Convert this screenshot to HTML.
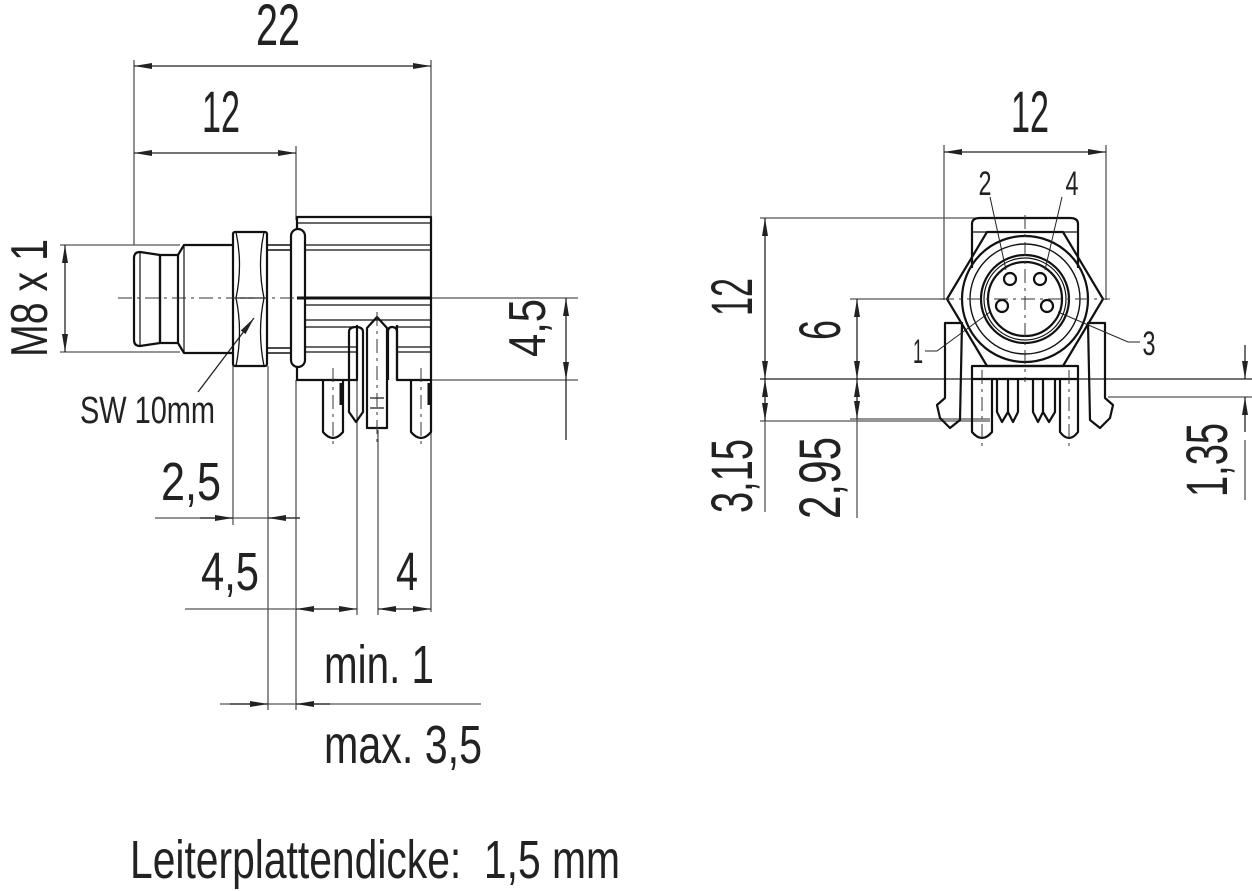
<!DOCTYPE html>
<html><head><meta charset="utf-8"><style>
html,body{margin:0;padding:0;background:#fff;}
svg{display:block;}
text{font-family:"Liberation Sans",sans-serif;fill:#222;}
</style></head><body>
<svg width="1252" height="891" viewBox="0 0 1252 891" xmlns="http://www.w3.org/2000/svg">
<defs>
<marker id="a" viewBox="0 0 18 6" refX="18" refY="3" markerWidth="18" markerHeight="6" markerUnits="userSpaceOnUse" orient="auto-start-reverse"><path d="M0,0 L18,3 L0,6 Z" fill="#222"/></marker>
</defs>
<g stroke="#555" stroke-width="1.3" fill="none">
<line x1="134" y1="60" x2="134" y2="245"/>
<line x1="296" y1="146" x2="296" y2="220"/>
<line x1="431" y1="60" x2="431" y2="612"/>
<line x1="60" y1="245" x2="180" y2="245"/>
<line x1="60" y1="352" x2="180" y2="352"/>
<line x1="430" y1="298" x2="578" y2="298"/>
<line x1="410" y1="380" x2="578" y2="380"/>
<line x1="233" y1="366" x2="233" y2="525"/>
<line x1="268" y1="366" x2="268" y2="710"/>
<line x1="296" y1="380" x2="296" y2="710"/>
<line x1="357" y1="325" x2="357" y2="615"/>
<line x1="378" y1="430" x2="378" y2="615"/>
<line x1="155" y1="518" x2="300" y2="518"/>
<line x1="185" y1="609" x2="296" y2="609"/>
<line x1="220" y1="704" x2="481" y2="704"/>
<line x1="944" y1="145" x2="944" y2="300"/>
<line x1="1106" y1="145" x2="1106" y2="300"/>
<line x1="760" y1="218" x2="1000" y2="218"/>
<line x1="850" y1="299" x2="945" y2="299"/>
<line x1="760" y1="379" x2="1252" y2="379" stroke="#222"/>
<line x1="760" y1="421" x2="990" y2="421"/>
<line x1="850" y1="419" x2="990" y2="419"/>
<line x1="1108" y1="397" x2="1252" y2="397"/>
<line x1="765" y1="421" x2="765" y2="512"/>
<line x1="857" y1="419" x2="857" y2="518"/>
<line x1="1245" y1="440" x2="1245" y2="500"/>
</g>
<g stroke="#222" stroke-width="1.3" fill="none">
<line x1="134" y1="66" x2="431" y2="66" marker-start="url(#a)" marker-end="url(#a)"/>
<line x1="134" y1="153" x2="296" y2="153" marker-start="url(#a)" marker-end="url(#a)"/>
<line x1="65" y1="245" x2="65" y2="352" marker-start="url(#a)" marker-end="url(#a)"/>
<line x1="566" y1="298" x2="566" y2="380" marker-start="url(#a)" marker-end="url(#a)"/>
<line x1="566" y1="380" x2="566" y2="440"/>
<line x1="200" y1="518" x2="233" y2="518" marker-end="url(#a)"/>
<line x1="300" y1="518" x2="268" y2="518" marker-end="url(#a)"/>
<line x1="296" y1="609" x2="357" y2="609" marker-start="url(#a)" marker-end="url(#a)"/>
<line x1="378" y1="609" x2="431" y2="609" marker-start="url(#a)" marker-end="url(#a)"/>
<line x1="230" y1="704" x2="268" y2="704" marker-end="url(#a)"/>
<line x1="330" y1="704" x2="296" y2="704" marker-end="url(#a)"/>
<line x1="944" y1="152" x2="1106" y2="152" marker-start="url(#a)" marker-end="url(#a)"/>
<line x1="765" y1="218" x2="765" y2="379" marker-start="url(#a)" marker-end="url(#a)"/>
<line x1="765" y1="379" x2="765" y2="421" marker-start="url(#a)" marker-end="url(#a)"/>
<line x1="857" y1="299" x2="857" y2="379" marker-start="url(#a)" marker-end="url(#a)"/>
<line x1="857" y1="379" x2="857" y2="419" marker-start="url(#a)" marker-end="url(#a)"/>
<line x1="1245" y1="345" x2="1245" y2="379" marker-end="url(#a)"/>
<line x1="1245" y1="432" x2="1245" y2="397" marker-end="url(#a)"/>
<line x1="198" y1="392" x2="254" y2="318" marker-end="url(#a)"/>
</g>
<g stroke="#111" stroke-width="2.2" fill="none" stroke-linejoin="round">
<path d="M160,255 L140,252 Q134,252 134,258 L134,340 Q134,346 140,346 L160,343 Z"/>
<line x1="140" y1="252" x2="140" y2="346" stroke-width="1.2"/>
<rect x="160" y="255" width="18" height="88"/>
<path d="M178,255 L184,245 L233,245 M178,343 L184,353 L233,353"/>
<line x1="184" y1="245" x2="184" y2="353" stroke-width="1.2"/>
<rect x="233" y="232" width="34" height="134" rx="2"/>
<path d="M233,298 L267,298 M236,232 Q243,265 236,298 Q243,331 236,366 M264,232 Q257,265 264,298 Q257,331 264,366" stroke-width="1.3"/>
<path d="M267,245 L291,245 M267,353 L291,353 M267,250 L291,250 M267,348 L291,348" stroke-width="1.4"/>
<rect x="291" y="229" width="14" height="138" rx="7"/>
<path d="M297,229 L297,217 L431,217 L431,380 L397,380 L397,325 M357,325 L357,380 L297,380 L297,367"/>
<g stroke-width="1.3">
<line x1="297" y1="223" x2="431" y2="223"/>
<line x1="305" y1="245" x2="431" y2="245"/>
<line x1="305" y1="250" x2="431" y2="250"/>
<line x1="305" y1="305" x2="431" y2="305"/>
<line x1="305" y1="320" x2="431" y2="320"/>
<line x1="305" y1="327" x2="357" y2="327"/>
<line x1="397" y1="327" x2="431" y2="327"/>
<line x1="305" y1="347" x2="357" y2="347"/>
<line x1="397" y1="347" x2="431" y2="347"/>
<line x1="305" y1="352" x2="357" y2="352"/>
<line x1="397" y1="352" x2="431" y2="352"/>
</g>
<line x1="297" y1="298" x2="431" y2="298" stroke-width="3"/>
<path d="M323,380 L323,432 Q333,444 343,432 L343,380"/>
<path d="M349,332 Q349,327 356,327 Q363,327 363,332 L363,412 L356,422 L349,412 Z"/>
<path d="M367,328 L377,317 L387,328 L387,428 L367,428 Z"/>
<line x1="370" y1="398" x2="384" y2="398" stroke-width="1.2"/><line x1="370" y1="408" x2="384" y2="408" stroke-width="1.2"/>
<path d="M388,380 L388,332 Q388,327 392,327 Q397,327 397,332 L397,380"/>
<path d="M411,380 L411,432 Q421,444 431,432 L431,380"/>
<line x1="341" y1="383" x2="341" y2="405" stroke-width="3"/>
<line x1="429" y1="383" x2="429" y2="405" stroke-width="3"/>
</g>
<g stroke="#333" stroke-width="1" stroke-dasharray="14,5,3,5" fill="none">
<line x1="118" y1="298" x2="300" y2="298"/>
<line x1="333" y1="368" x2="333" y2="445"/>
<line x1="377" y1="312" x2="377" y2="445"/>
<line x1="421" y1="368" x2="421" y2="445"/>
</g>
<g stroke="#111" stroke-width="2.2" fill="none" stroke-linejoin="round">
<path d="M972,232 L972,224 Q972,218 980,218 L1070,218 Q1078,218 1078,224 L1078,232"/>
<line x1="972" y1="232" x2="1078" y2="232" stroke-width="1.3"/>
<path d="M987,232 L1063,232 L1103,299 L1063,366 L987,366 L947,299 Z"/>
<circle cx="1025" cy="299" r="63"/>
<circle cx="1025" cy="299" r="55" stroke-width="1.4"/>
<circle cx="1025" cy="299" r="44"/>
<circle cx="1025" cy="299" r="41" stroke-width="1.2"/>
<circle cx="1025" cy="299" r="37"/>
<circle cx="1010" cy="279" r="6"/><circle cx="1040" cy="279" r="6"/>
<circle cx="1002" cy="306" r="6"/><circle cx="1047" cy="306" r="6"/>
<path d="M972,232 L972,268 M1078,232 L1078,268"/>
<rect x="972" y="366" width="106" height="13"/>
<path d="M945,323 L962,323 L960,420 L950,428 L940,418 L937,405 L945,398 Z"/>
<path d="M1105,323 L1088,323 L1090,420 L1100,428 L1110,418 L1113,405 L1105,398 Z"/>
<path d="M972,379 L972,432 Q982,444 992,432 L992,379"/>
<path d="M997,379 L997,412 L1002,422 L1008,412 L1008,379 M1008,379 L1008,412 L1013,422 L1018,412 L1018,379"/>
<path d="M1033,379 L1033,412 L1038,422 L1043,412 L1043,379 M1043,379 L1043,412 L1049,422 L1055,412 L1055,379"/>
<path d="M1060,379 L1060,432 Q1069,444 1078,432 L1078,379"/>
</g>
<g stroke="#333" stroke-width="1" stroke-dasharray="14,5,3,5" fill="none">
<line x1="1025" y1="215" x2="1025" y2="382"/>
<line x1="940" y1="299" x2="1110" y2="299"/>
<line x1="982" y1="370" x2="982" y2="448"/>
<line x1="1069" y1="370" x2="1069" y2="448"/>
</g>
<g stroke="#222" stroke-width="1" fill="none">
<path d="M990,197 L1006,270"/>
<path d="M1062,197 L1045,270"/>
<path d="M925,351 L937,351 L990,312"/>
<path d="M1140,342 L1128,342 L1058,312"/>
</g>
<text x="278" y="45" font-size="58" text-anchor="middle" textLength="44" lengthAdjust="spacingAndGlyphs">22</text>
<text x="221" y="132" font-size="58" text-anchor="middle" textLength="38" lengthAdjust="spacingAndGlyphs">12</text>
<text transform="translate(47,298) rotate(-90)" font-size="52" text-anchor="middle" textLength="118" lengthAdjust="spacingAndGlyphs">M8 x 1</text>
<text transform="translate(545,328) rotate(-90)" font-size="52" text-anchor="middle" textLength="58" lengthAdjust="spacingAndGlyphs">4,5</text>
<text x="80" y="423" font-size="38" textLength="135" lengthAdjust="spacingAndGlyphs">SW 10mm</text>
<text x="161" y="500" font-size="54" textLength="60" lengthAdjust="spacingAndGlyphs">2,5</text>
<text x="201" y="590" font-size="54" textLength="58" lengthAdjust="spacingAndGlyphs">4,5</text>
<text x="396" y="590" font-size="54" textLength="22" lengthAdjust="spacingAndGlyphs">4</text>
<text x="324" y="683" font-size="54" textLength="110" lengthAdjust="spacingAndGlyphs">min. 1</text>
<text x="324" y="763" font-size="54" textLength="158" lengthAdjust="spacingAndGlyphs">max. 3,5</text>
<text x="130" y="878" font-size="54" textLength="490" lengthAdjust="spacingAndGlyphs">Leiterplattendicke:&#160; 1,5 mm</text>
<text x="1030" y="132" font-size="58" text-anchor="middle" textLength="38" lengthAdjust="spacingAndGlyphs">12</text>
<text x="985" y="195" font-size="34" text-anchor="middle" textLength="13" lengthAdjust="spacingAndGlyphs">2</text>
<text x="1072" y="195" font-size="34" text-anchor="middle" textLength="13" lengthAdjust="spacingAndGlyphs">4</text>
<text x="918" y="363" font-size="34" text-anchor="middle" textLength="10" lengthAdjust="spacingAndGlyphs">1</text>
<text x="1149" y="355" font-size="34" text-anchor="middle" textLength="13" lengthAdjust="spacingAndGlyphs">3</text>
<text transform="translate(752,297) rotate(-90)" font-size="58" text-anchor="middle" textLength="38" lengthAdjust="spacingAndGlyphs">12</text>
<text transform="translate(840,330) rotate(-90)" font-size="58" text-anchor="middle" textLength="20" lengthAdjust="spacingAndGlyphs">6</text>
<text transform="translate(752,476) rotate(-90)" font-size="58" text-anchor="middle" textLength="74" lengthAdjust="spacingAndGlyphs">3,15</text>
<text transform="translate(840,478) rotate(-90)" font-size="58" text-anchor="middle" textLength="82" lengthAdjust="spacingAndGlyphs">2,95</text>
<text transform="translate(1227,460) rotate(-90)" font-size="58" text-anchor="middle" textLength="74" lengthAdjust="spacingAndGlyphs">1,35</text>
</svg>
</body></html>
